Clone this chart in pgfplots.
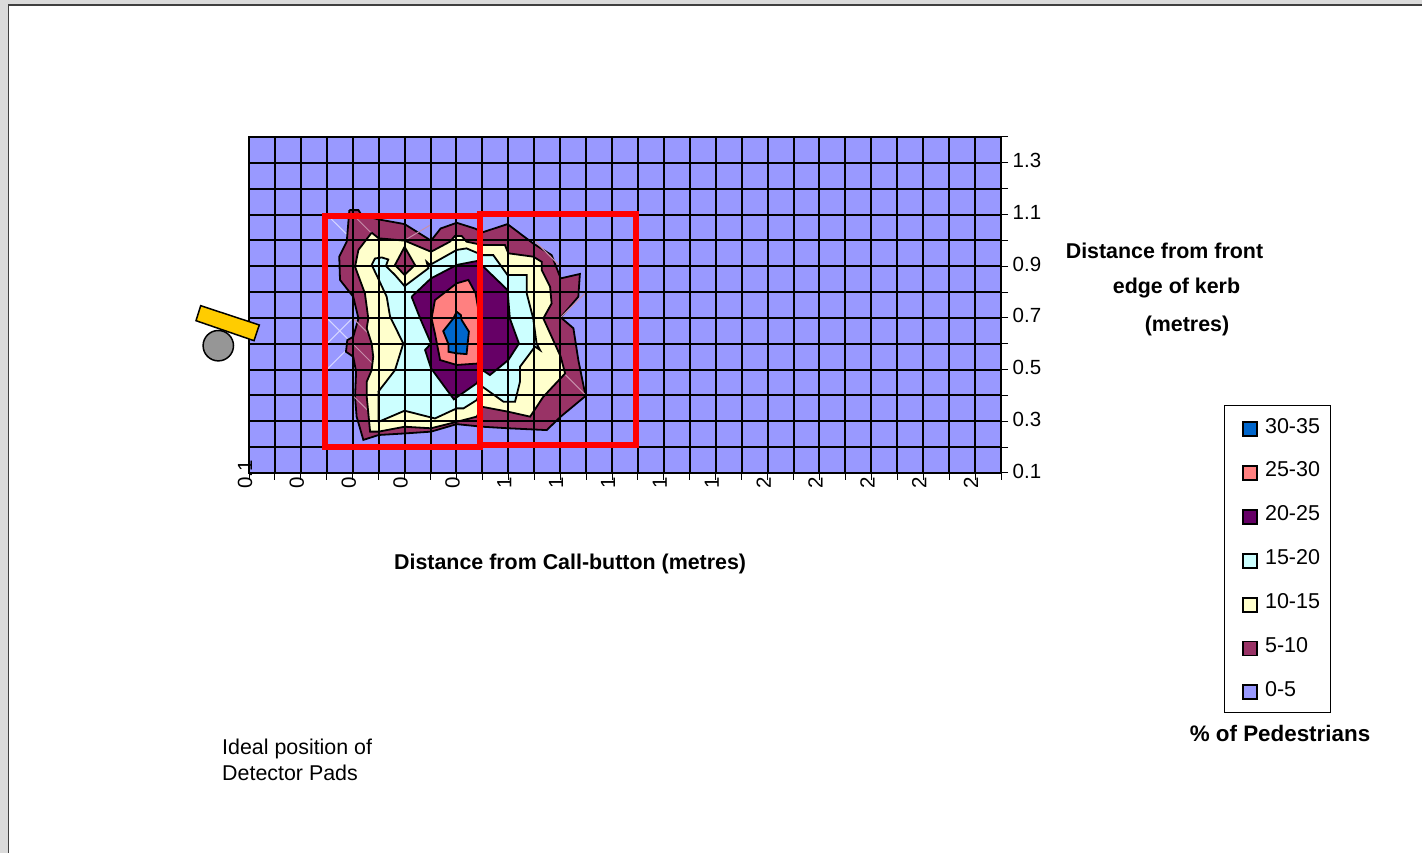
\documentclass[border=0pt]{standalone}
\usepackage{fontspec}
\setmainfont{Liberation Sans}
\usepackage{pgfplots}
\pgfplotsset{compat=1.18}
\definecolor{c0}{HTML}{9999FF}
\definecolor{c5}{HTML}{993366}
\definecolor{c10}{HTML}{FFFFCC}
\definecolor{c15}{HTML}{CCFFFF}
\definecolor{c20}{HTML}{660066}
\definecolor{c25}{HTML}{FF8080}
\definecolor{c30}{HTML}{0066CC}
\pgfplotsset{
  band/.style={fill=#1,draw=black,line width=1.8pt,line join=miter,mark=none},
}
\begin{document}
\begin{tikzpicture}[x=1pt,y=1pt]
\path[use as bounding box] (0,0) rectangle (1422,853);
\fill[white] (0,0) rectangle (1422,853);
\fill[black!14] (0,853) -- (0,0) -- (8,0) -- (8,848) -- (1422,848) -- (1422,853) -- cycle;
\draw[black!75,line width=1.3pt] (8.5,0) -- (8.5,848) -- (1422,848);
\begin{axis}[
    at={(249pt,380pt)},anchor=south west,
    scale only axis,width=752pt,height=336pt,
    xmin=0,xmax=29,ymin=0.1,ymax=1.4,
    axis on top,
    axis line style={line width=1.5pt},
    xtick={0,1,...,29},
    ytick={0.1,0.2,0.3,0.4,0.5,0.6,0.7,0.8,0.9,1.0,1.1,1.2,1.3,1.4},
    xticklabels={0.1,,0,,0,,0,,0,,1,,1,,1,,1,,1,,2,,2,,2,,2,,2,},
    yticklabels={0.1,,0.3,,0.5,,0.7,,0.9,,1.1,,1.3,},
    xtick pos=bottom,ytick pos=right,yticklabel pos=right,
    tick align=outside,
    tick style={black,line width=1pt},
    major tick length=7pt,
    grid=major,
    grid style={black,line width=2pt},
    xticklabel style={font=\fontsize{20.5}{24}\selectfont,rotate=90,anchor=west,inner sep=0pt,xshift=-9pt,yshift=4pt},
    yticklabel style={font=\fontsize{20.5}{24}\selectfont,anchor=west,inner sep=0pt,xshift=4.5pt,yshift=2pt},
    xlabel={\bfseries Distance from Call-button (metres)},
    xlabel style={font=\fontsize{21.4}{24}\selectfont,at={(axis description cs:0.427,-0.27)},anchor=center,inner sep=0pt},
    reverse legend,
    legend image code/.code={\path[draw=none,fill=none] (-8pt,0pt) -- (22pt,0pt);\draw[#1,line width=1.8pt] (0pt,-10pt) rectangle (14pt,4pt);},
    legend cell align=left,
    legend style={at={(1.2966,0.2024)},anchor=north west,draw=black,line width=1pt,
      font=\fontsize{21.5}{24}\selectfont,inner xsep=10.5pt,inner ysep=12.5pt,
      row sep=24.7pt,
      nodes={inner sep=0pt,anchor=west}},
]
% 0-5, whole floor
\addplot[band=c0] coordinates {(0,0.1) (29,0.1) (29,1.4) (0,1.4) (0,0.1)};
\addlegendentry{0-5}
% light diagonals on the surface facets
\addplot[forget plot,draw=white!60!c0,line width=1pt] coordinates {
  (3,0.7) (4,0.6)

  (3,0.6) (4,0.7)

  (3,0.5) (4,0.6)

  (3,1.1) (4,1.0)
};
% 5-10
\addplot[band=c5] coordinates {
  (3.87,1.117) (4.22,1.117) (4.34,1.098) (5,1.081) (6,1.063) (7.02,0.999) (7.39,1.046)
  (8.01,1.068) (8.71,1.046) (9,1.031) (9.97,1.063) (10.96,0.988) (11.67,0.943) (12.02,0.853)
  (12.76,0.870) (12.7,0.782) (12.02,0.702) (12.51,0.660) (12.7,0.537) (12.98,0.398)
  (12.02,0.318) (11.48,0.266) (10,0.273) (9,0.279) (8.01,0.289) (7.02,0.260) (6,0.253)
  (5,0.247) (4.41,0.228) (4.15,0.318) (4.09,0.395) (4.13,0.492) (4.02,0.550) (3.74,0.569)
  (3.79,0.614) (4.02,0.627) (4.22,0.698) (4.02,0.782) (3.51,0.847) (3.48,0.937) (3.77,0.995)
  (3.87,1.117)};
\addlegendentry{5-10}
\addplot[forget plot,draw=white!45!c5,line width=1pt] coordinates {
  (4,1.1) (5,1.0)

  (4,0.7) (5,0.6)

  (4,0.6) (5,0.5)

  (4,0.4) (5,0.3)

  (12,0.5) (13,0.4)

  (12,0.7) (13,0.8)

  (11,1.0) (12,0.9)

  (6,1.0) (7,1.06)
};
% 10-15
\addplot[band=c10] coordinates {
  (4.73,1.03) (5,1.008) (6,0.999) (7.02,0.956) (7.75,0.995) (7.94,1.017) (8.2,1.017)
  (8.39,0.995) (9,0.982) (9.87,0.982) (10,0.95) (10.96,0.937) (11.29,0.917) (11.29,0.885)
  (11.61,0.821) (11.67,0.756) (11.35,0.698) (12.02,0.55) (12.19,0.485) (11.35,0.395)
  (10.84,0.318) (10,0.337) (9,0.356) (8.78,0.318) (8.01,0.298) (7.02,0.273) (6,0.279)
  (5,0.26) (4.67,0.26) (4.54,0.395) (4.54,0.453) (4.73,0.498) (4.79,0.55) (4.73,0.601)
  (4.54,0.66) (4.6,0.698) (4.47,0.795) (4.09,0.898) (4.22,0.963) (4.73,1.03)};
\addlegendentry{10-15}
% 5-10 island
\addplot[band=c5,forget plot] coordinates {(6,0.975) (5.63,0.905) (6,0.866) (6.4,0.905) (6,0.975)};
% 15-20
\addplot[band=c15] coordinates {
  (4.73,0.905) (4.86,0.93) (5.12,0.934) (5.37,0.926) (5.28,0.901) (5.63,0.866) (6,0.823)
  (6.92,0.892) (6.85,0.917) (6.98,0.905) (8.01,0.963) (8.39,0.969) (9,0.943) (9.42,0.943)
  (9.97,0.866) (10.71,0.866) (10.71,0.795) (10.96,0.698) (11.09,0.601) (11.22,0.576)
  (11.03,0.589) (10.45,0.511) (10.45,0.453) (10.26,0.376) (9.81,0.376) (9,0.434) (8.78,0.382)
  (8.27,0.35) (8.01,0.35) (7.17,0.311) (6,0.341) (5,0.298) (4.99,0.415) (5.63,0.498)
  (5.95,0.601) (5.44,0.705) (5.31,0.782) (4.92,0.866) (4.73,0.905)};
\addlegendentry{15-20}
% 20-25
\addplot[band=c20] coordinates {
  (6.27,0.782) (7.02,0.853) (8.01,0.905) (8.78,0.92) (9.04,0.898) (9.97,0.808) (10.06,0.698)
  (10.41,0.601) (10,0.537) (9.29,0.479) (9,0.498) (8.78,0.447) (7.9,0.385) (7.02,0.505)
  (6.79,0.576) (7.02,0.601) (6.6,0.698) (6.27,0.782)};
\addlegendentry{20-25}
% 25-30
\addplot[band=c25] coordinates {
  (7.04,0.698) (7.17,0.769) (8.01,0.834) (8.46,0.847) (8.74,0.795) (8.9,0.698) (8.9,0.524)
  (8.01,0.518) (7.37,0.537) (7.17,0.64) (7.04,0.698)};
\addlegendentry{25-30}
% 30-35
\addplot[band=c30] coordinates {
  (8.01,0.724) (8.17,0.711) (8.2,0.692) (8.48,0.647) (8.39,0.56) (8.01,0.563) (7.69,0.569)
  (7.69,0.599) (7.49,0.649) (7.88,0.698) (8.01,0.724)};
\addlegendentry{30-35}
\end{axis}
% annotations, in picture pixels measured from the top left
\begin{scope}[yshift=853pt,y=-1pt]
  \draw[red,line width=6pt] (324.5,216) rectangle (480,447.5);
  \draw[red,line width=6pt] (480,214.5) rectangle (636,445.5);
  \draw[black,line width=1.5pt,fill={rgb,255:red,255;green,204;blue,0}]
    (200.7,305.7) -- (259.3,325) -- (254,340.7) -- (196,320.7) -- cycle;
  \draw[black,fill={rgb,255:red,150;green,150;blue,150},line width=1.5pt] (218.3,345.7) circle (15.2);
  \tikzset{every node/.style={font=\fontsize{21.4}{24}\selectfont,inner sep=0pt}}
  \node[anchor=center] at (1164.5,251) {\bfseries Distance from front};
  \node[anchor=center] at (1176.5,288) {\bfseries edge of kerb};
  \node[anchor=center] at (1187,326) {\bfseries (metres)};
  \node[anchor=center,font=\fontsize{22.4}{24}\selectfont] at (1280,733) {\bfseries \% of Pedestrians};
  \node[anchor=west] at (222,749) {Ideal position of};
  \node[anchor=west] at (222,773) {Detector Pads};
\end{scope}
\end{tikzpicture}
\end{document}
